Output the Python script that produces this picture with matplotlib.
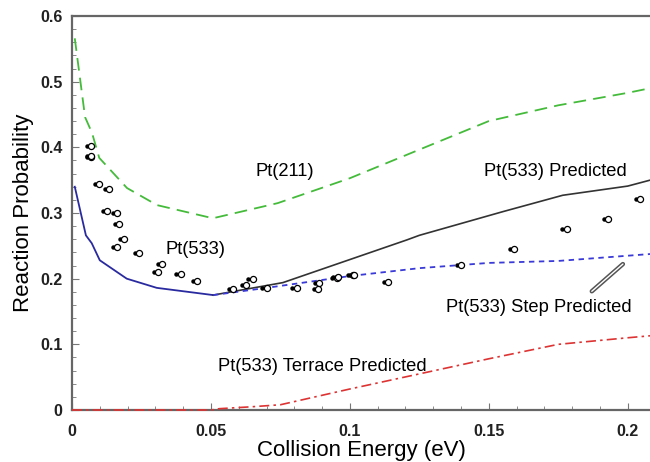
import matplotlib
matplotlib.use("Agg")
import matplotlib.pyplot as plt
from matplotlib.ticker import MultipleLocator
from matplotlib.transforms import offset_copy

plt.rcParams['font.family'] = ['Liberation Sans', 'DejaVu Sans']

# Pt(211) reaction probability
e_211 = [0.001, 0.0047, 0.0072, 0.0098, 0.0198, 0.0306, 0.0507, 0.074, 0.1, 0.15, 0.175, 0.2, 0.208]
p_211 = [0.566, 0.446, 0.422, 0.384, 0.338, 0.312, 0.292, 0.315, 0.353, 0.440, 0.464, 0.483, 0.490]

# Pt(533) computed, low energy branch
e_533 = [0.001, 0.005, 0.0071, 0.010, 0.0197, 0.0305, 0.0508]
p_533 = [0.340, 0.266, 0.254, 0.228, 0.200, 0.186, 0.175]

# Pt(533) predicted
e_pred = [0.0508, 0.0759, 0.1205, 0.125, 0.155, 0.1766, 0.2, 0.208]
p_pred = [0.175, 0.194, 0.259, 0.266, 0.302, 0.327, 0.341, 0.350]

# Pt(533) step predicted
e_step = [0.0508, 0.070, 0.1, 0.125, 0.15, 0.175, 0.208]
p_step = [0.175, 0.186, 0.204, 0.216, 0.224, 0.227, 0.2375]

# Pt(533) terrace predicted
e_terr = [0.0, 0.05, 0.053, 0.065, 0.075, 0.1, 0.125, 0.15, 0.175, 0.2, 0.208]
p_terr = [0.0, 0.0, 0.002, 0.005, 0.008, 0.032, 0.055, 0.078, 0.100, 0.110, 0.113]

# Measured Pt(533) reaction probabilities
e_exp = [0.0068, 0.0068, 0.0070, 0.0098, 0.0134, 0.0125, 0.0163, 0.0170, 0.0188, 0.0163,
         0.0240, 0.0325, 0.0311, 0.0391, 0.0449, 0.058, 0.0625, 0.065, 0.070, 0.0808,
         0.089, 0.0886, 0.0952, 0.0956, 0.1010, 0.1014, 0.1138, 0.140, 0.159, 0.178,
         0.193, 0.2043]
p_exp = [0.402, 0.386, 0.387, 0.344, 0.337, 0.303, 0.300, 0.284, 0.261, 0.248,
         0.239, 0.222, 0.210, 0.207, 0.197, 0.184, 0.190, 0.199, 0.186, 0.186,
         0.194, 0.185, 0.2010, 0.2020, 0.2050, 0.2060, 0.1955, 0.221, 0.245, 0.276,
         0.291, 0.321]

x_ticks = [0.0, 0.05, 0.1, 0.15, 0.2]
x_tick_labels = ['0', '0.05', '0.1', '0.15', '0.2']
y_ticks = [0.0, 0.1, 0.2, 0.3, 0.4, 0.5, 0.6]
y_tick_labels = ['0', '0.1', '0.2', '0.3', '0.4', '0.5', '0.6']

fig = plt.figure(figsize=(6.5, 4.62), dpi=100)
ax = fig.add_axes([72/650, 1 - 410/462, 1 - 72/650, (410 - 16)/462])

ax.plot(e_211, p_211, color='#44bb3a', lw=1.3, dashes=(7, 4))
ax.plot(e_533, p_533, color='#2a2aa0', lw=1.3)
ax.plot(e_pred, p_pred, color='#333333', lw=1.2)
ax.plot(e_step, p_step, color='#3a3ad8', lw=1.3, dashes=(3, 2.5))
ax.plot(e_terr, p_terr, color='#dd3333', lw=1.2, dashes=(6, 2.5, 1.5, 2.5),
        clip_on=False, zorder=5)

# experimental points: small filled dot beside an open circle
dot_tr = offset_copy(ax.transData, fig=fig, x=-3.0, y=0, units='points')
ax.plot(e_exp, p_exp, ls='none', marker='o', ms=2.2, color='black', transform=dot_tr)
ax.plot(e_exp, p_exp, ls='none', marker='o', ms=4.4, mfc='white', mec='black', mew=0.9)

ax.set_xlim(0, 0.208)
ax.set_ylim(0, 0.6)
ax.set_xticks(x_ticks, x_tick_labels, fontweight='bold', color='#222222')
ax.set_yticks(y_ticks, y_tick_labels, fontweight='bold', color='#222222')
ax.xaxis.set_minor_locator(MultipleLocator(0.01))
ax.yaxis.set_minor_locator(MultipleLocator(0.02))

ax.tick_params(which='both', direction='in', color='#777777', labelsize=11.5)
ax.tick_params(axis='x', which='major', pad=10)
ax.tick_params(axis='y', which='major', pad=7)
ax.tick_params(which='major', length=5)
ax.tick_params(which='minor', length=3)

for side in ('left', 'top', 'bottom'):
    ax.spines[side].set_color('#666666')
    ax.spines[side].set_linewidth(1.6)
ax.spines['right'].set_visible(False)

ax.set_xlabel('Collision Energy (eV)', fontsize=16, labelpad=1)
ax.set_ylabel('Reaction Probability', fontsize=16, labelpad=4)

fs = 13.2
ax.text(0.0765, 0.363, 'Pt(211)', fontsize=fs, ha='center', va='center')
ax.text(0.0445, 0.245, 'Pt(533)', fontsize=fs, ha='center', va='center')
ax.text(0.174, 0.363, 'Pt(533) Predicted', fontsize=fs, ha='center', va='center')
ax.text(0.168, 0.156, 'Pt(533) Step Predicted', fontsize=fs, ha='center', va='center')
ax.text(0.090, 0.067, 'Pt(533) Terrace Predicted', fontsize=fs, ha='center', va='center')

# pointer from the step label to its curve
ax.annotate('', xy=(0.199, 0.225), xytext=(0.1863, 0.178),
            arrowprops=dict(arrowstyle='-', color='#555555', lw=3.2))
ax.annotate('', xy=(0.199, 0.225), xytext=(0.1863, 0.178),
            arrowprops=dict(arrowstyle='-', color='white', lw=1.0))

fig.savefig('out.png', dpi=100)
